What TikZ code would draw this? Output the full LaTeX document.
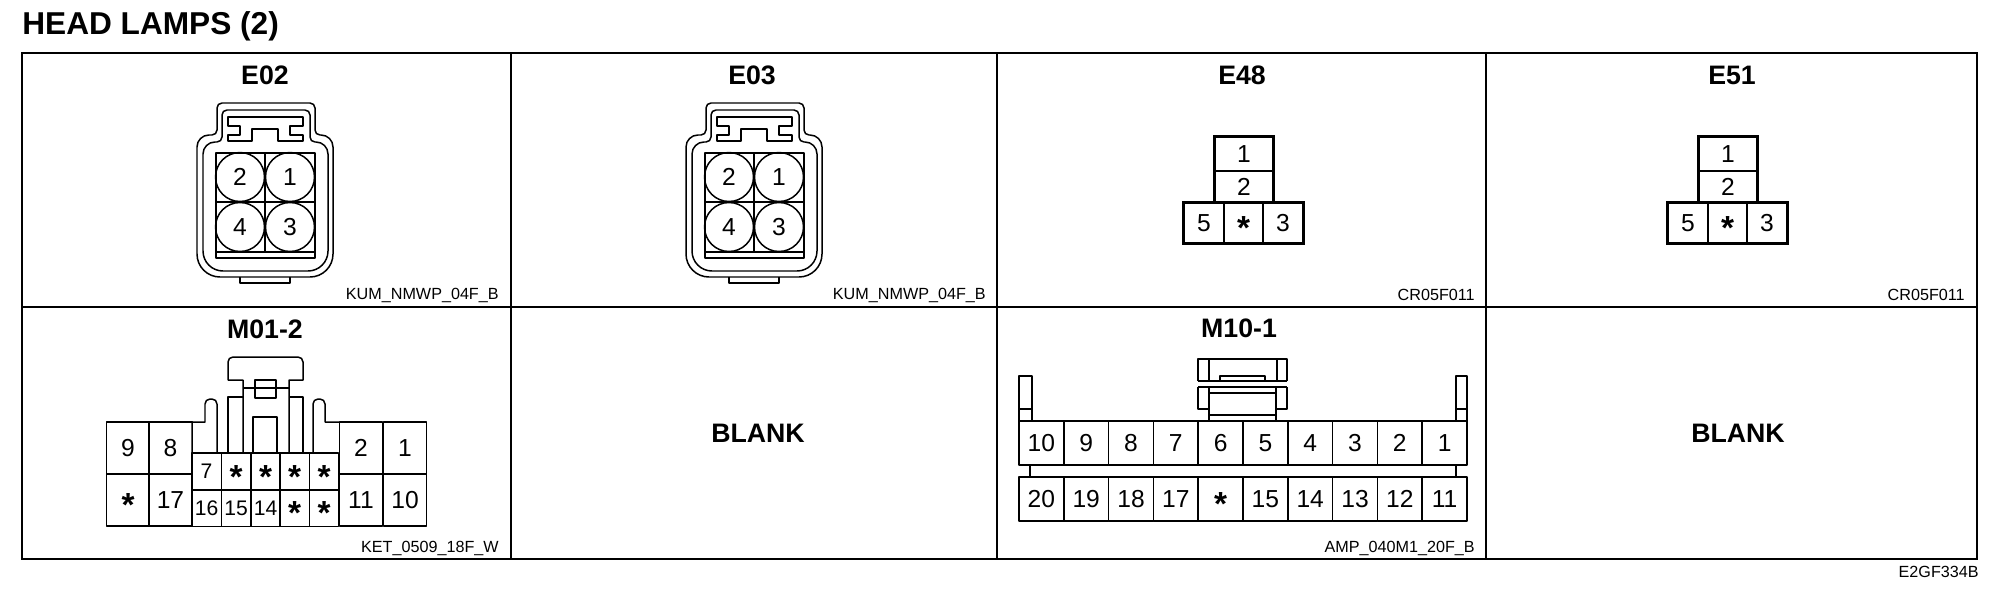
\documentclass[tikz,border=0pt]{standalone}
\usepackage{fontspec}
\setmainfont{Liberation Sans}
\newcommand{\pinstar}{{\fontsize{19}{19}\selectfont\bfseries\raisebox{-.5em}[0pt][0pt]{*}}}
\tikzset{
  wire/.style={line width=.85pt, line join=round},
  heavy/.style={line width=1.7pt, line join=miter},
  framing/.style={line width=.95pt},
  headtxt/.style={font=\fontsize{15.2}{15.2}\selectfont\bfseries, inner sep=0pt},
  tagtxt/.style={font=\fontsize{9.2}{9.2}\selectfont, inner sep=0pt, anchor=east},
  pincirc/.style={draw, wire, circle, minimum size=.98cm, inner sep=0pt,
    font=\fontsize{14}{14}\selectfont},
  pinbox/.style={draw, wire, inner sep=0pt, font=\fontsize{14}{14}\selectfont},
  bigbox/.style={pinbox, minimum width=.87cm, minimum height=1.04cm},
  midbox/.style={pinbox, minimum width=.59cm, minimum height=.74cm,
    font=\fontsize{12}{12}\selectfont},
  ampbox/.style={pinbox, minimum width=.896cm, minimum height=.88cm},
  lockconn/.pic={
    % housing, outer and inner outline
    \draw[wire, rounded corners=.1cm] (266,103) -- (315,103) -- (315,135)
      [rounded corners=.24cm] -- (333,135) [rounded corners=.46cm] -- (333,277) -- (197,277)
      [rounded corners=.24cm] -- (197,135) [rounded corners=.1cm] -- (217,135) -- (217,103) -- cycle;
    \draw[wire, rounded corners=.1cm] (266,110) -- (310,110) -- (310,142)
      [rounded corners=.24cm] -- (328,142) [rounded corners=.4cm] -- (328,271) -- (203,271)
      [rounded corners=.24cm] -- (203,142) [rounded corners=.1cm] -- (222,142) -- (222,110) -- cycle;
    \draw[wire] (240,277) -- (240,283) -- (290,283) -- (290,277);
    % latch
    \draw[wire] (228,117) -- (303,117) -- (303,126) -- (290,126) -- (290,135) -- (303,135)
      -- (303,141) -- (278,141) -- (278,129) -- (252,129) -- (252,141) -- (228,141)
      -- (228,135) -- (240,135) -- (240,126) -- (228,126) -- cycle;
    % pin field
    \draw[wire] (216,153) rectangle (315,258);
    \draw[wire] (216,202) -- (315,202) (265,153) -- (265,252) (216,252) -- (315,252);
    \node[pincirc] (p2) at (240,177) {2};
    \node[pincirc] (p1) at (290,177) {1};
    \node[pincirc] (p4) at (240,227) {4};
    \node[pincirc] (p3) at (290,227) {3};
  },
  teeconn/.pic={
    \node[pinbox, minimum width=1.16cm, minimum height=.68cm] (p1) at (1244,154) {1};
    \node[pinbox, minimum width=1.16cm, minimum height=.64cm] (p2) at (1244,187) {2};
    \node[pinbox, minimum width=.8cm, minimum height=.8cm] (p5) at (1204,223) {5};
    \node[pinbox, minimum width=.78cm, minimum height=.8cm] (p0) at (1243.5,223) {\pinstar};
    \node[pinbox, minimum width=.8cm, minimum height=.8cm] (p3) at (1283,223) {3};
    \draw[heavy] (p2.south west) |- (p1.north east) -- (p2.south east);
    \draw[heavy] (p5.north west) rectangle (p3.south east);
  }
}
\begin{document}
\begin{tikzpicture}[x=.02cm, y=-.02cm]
  \useasboundingbox (0,0) rectangle (1990,608);
  \node[font=\fontsize{18}{18}\selectfont\bfseries, inner sep=0pt, anchor=west] (title) at (22,26) {HEAD LAMPS (2)};
  % panels
  \draw[framing] (22,53) rectangle (1977,559);
  \draw[framing] (22,307) -- (1977,307);
  \foreach \xx in {511,997,1486} \draw[framing] (\xx,53) -- (\xx,559);
  % panel titles
  \node[headtxt] (tE02) at (265,75) {E02};
  \node[headtxt] (tE03) at (752,75) {E03};
  \node[headtxt] (tE48) at (1242,75) {E48};
  \node[headtxt] (tE51) at (1732,75) {E51};
  \node[headtxt] (tM01) at (265,329) {M01-2};
  \node[headtxt] (tM10) at (1239,328) {M10-1};
  \node[headtxt] (blankA) at (758,433) {BLANK};
  \node[headtxt] (blankB) at (1738,433) {BLANK};
  % part numbers
  \node[tagtxt] (kumA) at (499,295) {KUM\_NMWP\_04F\_B};
  \node[tagtxt] (kumB) at (986,295) {KUM\_NMWP\_04F\_B};
  \node[tagtxt] (crA) at (1475,295) {CR05F011};
  \node[tagtxt] (crB) at (1965,295) {CR05F011};
  \node[tagtxt] (ket) at (499,548) {KET\_0509\_18F\_W};
  \node[tagtxt] (amp) at (1475,548) {AMP\_040M1\_20F\_B};
  \node[tagtxt] (code) at (1979,572) {E2GF334B};
  % connectors of the top row
  \pic (e02) at (0,0) {lockconn};
  \pic (e03) at (489,0) {lockconn};
  \pic (e48) at (0,0) {teeconn};
  \pic (e51) at (484,0) {teeconn};
  % M01-2
  \foreach \lab/\px/\py/\nm in {9/128/448/a, 8/170.5/448/b, \pinstar/128/500/c, 17/170.5/500/d,
      2/361/448/e, 1/405/448/f, 11/361/500/g, 10/405/500/h}
    \node[bigbox] (m01\nm) at (\px,\py) {\lab};
  \foreach \lab/\px/\py/\nm in {7/206.5/471.5/i, \pinstar/236/471.5/j, \pinstar/265.5/471.5/k,
      \pinstar/294.5/471.5/l, \pinstar/324/471.5/m,
      16/206.5/508/n, 15/236/508/o, 14/265.5/508/p, \pinstar/294.5/508/q, \pinstar/324/508/r}
    \node[midbox] (m01\nm) at (\px,\py) {\lab};
  \draw[wire] (192,453) -- (192,422) -- (205,422) [rounded corners=.1cm] -- (205,399) -- (217,399) [sharp corners] -- (217,453);
  \draw[wire] (339,422) -- (325,422) [rounded corners=.1cm] -- (325,399) -- (313,399) [sharp corners] -- (313,453);
  \draw[wire, line width=1.2pt] (228,453) -- (228,397) -- (243,397) (289,397) -- (303,397) -- (303,453);
  \draw[wire] (243,453) -- (243,380) -- (228,380) [rounded corners=.1cm] -- (228,357) -- (303,357) [sharp corners] -- (303,380) -- (289,380) -- (289,453);
  \draw[wire, line width=1.2pt] (255,380) rectangle (276,398);
  \draw[wire] (243,388) -- (289,388);
  \draw[wire] (253,453) -- (253,417) -- (277,417) -- (277,453);
  % M10-1
  \foreach \lab [count=\i] in {10,9,8,7,6,5,4,3,2,1}
    \node[ampbox] (m10u\i) at ({1019+44.8*(\i-.5)},443) {\lab};
  \foreach \lab [count=\i] in {20,19,18,17,\pinstar,15,14,13,12,11}
    \node[ampbox] (m10d\i) at ({1019+44.8*(\i-.5)},499) {\lab};
  \draw[wire] (1030,465) -- (1030,477) (1456,465) -- (1456,477);
  \draw[wire] (1019,421) -- (1019,376) -- (1032,376) -- (1032,421) (1019,409) -- (1032,409);
  \draw[wire] (1467,421) -- (1467,376) -- (1456,376) -- (1456,421) (1456,409) -- (1467,409);
  \draw[wire, line width=1.1pt] (1198,381) -- (1198,359) -- (1287,359) -- (1287,381);
  \draw[wire] (1209,359) -- (1209,381) (1277,359) -- (1277,381);
  \draw[wire] (1220,376) rectangle (1265,381);
  \draw[wire] (1198,381) -- (1287,381) (1198,387) -- (1287,387);
  \draw[wire, line width=1.1pt] (1198,387) -- (1198,409) -- (1209,409) (1287,387) -- (1287,409) -- (1277,409);
  \draw[wire] (1209,387) -- (1209,421) (1276,387) -- (1276,421);
  \draw[wire] (1209,393) -- (1276,393) (1209,415) -- (1276,415);
\end{tikzpicture}
\end{document}
